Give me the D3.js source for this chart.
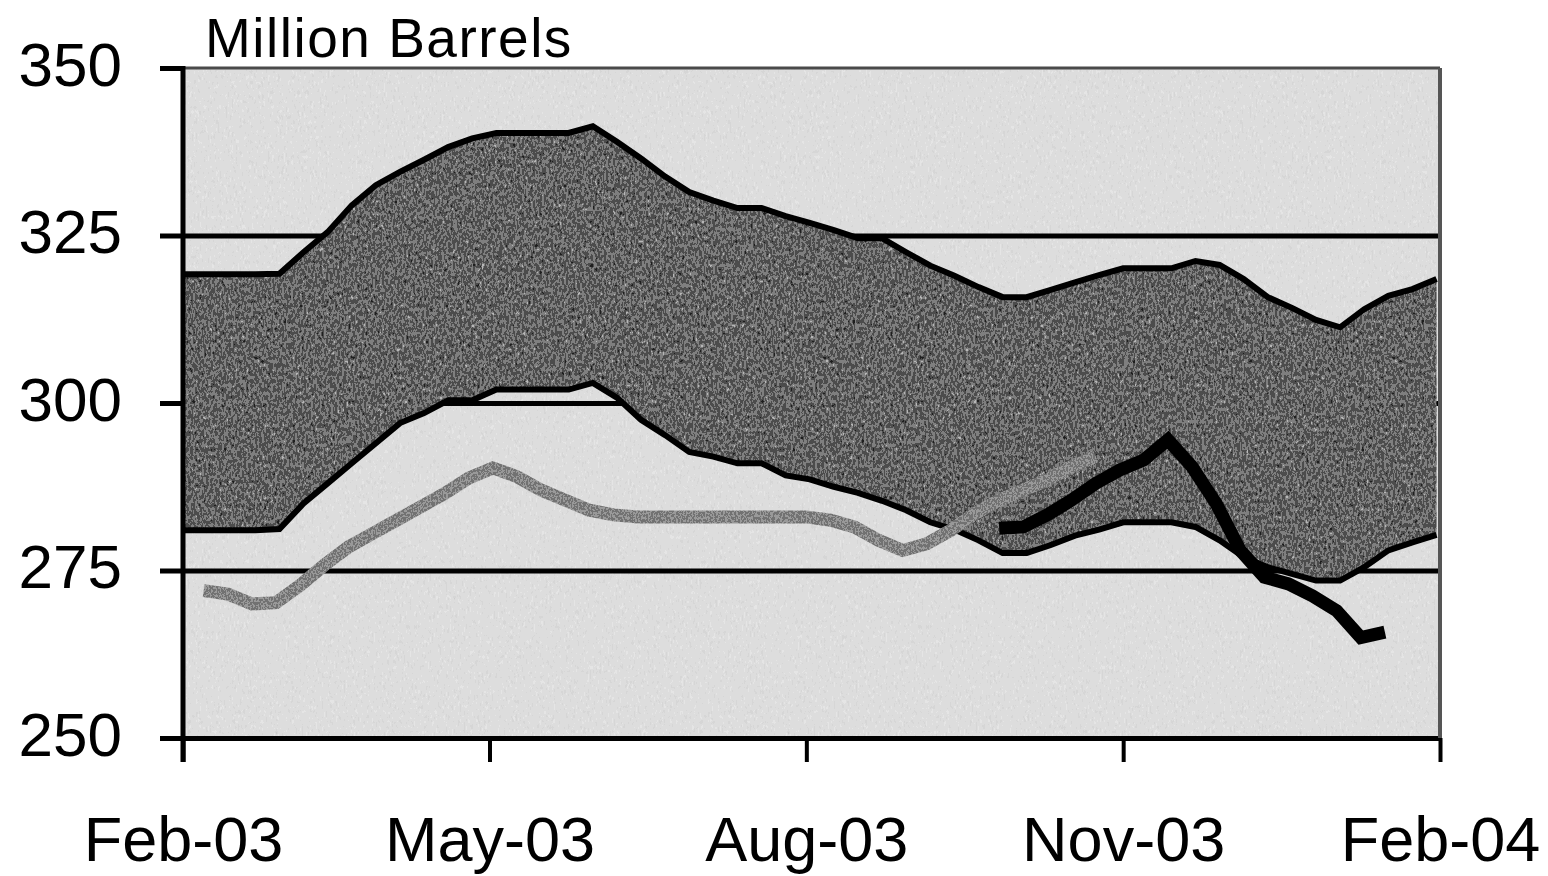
<!DOCTYPE html>
<html>
<head>
<meta charset="utf-8">
<script src="https://cdn.jsdelivr.net/npm/d3@7/dist/d3.min.js"></script>
<style>
  html, body { margin: 0; padding: 0; background: #fff; }
  svg { display: block; }
  text { font-family: "Liberation Sans", Arial, sans-serif; fill: #000; }
</style>
</head>
<body>
<svg id="chart" width="1548" height="876"></svg>
<script>
// y axis ticks and x axis ticks
const yTicks = [250, 275, 300, 325, 350];
const xTicks = ["2003-02-01", "2003-05-01", "2003-08-01", "2003-11-01", "2004-02-01"];
const xTickLabels = ["Feb-03", "May-03", "Aug-03", "Nov-03", "Feb-04"];

// weekly range band (upper / lower edge)
const bandWeeks = [
  "2003-02-01","2003-02-08","2003-02-15","2003-02-22",
  "2003-03-01","2003-03-08","2003-03-15","2003-03-22","2003-03-29",
  "2003-04-05","2003-04-12","2003-04-19","2003-04-26",
  "2003-05-03","2003-05-10","2003-05-17","2003-05-24","2003-05-31",
  "2003-06-07","2003-06-14","2003-06-21","2003-06-28",
  "2003-07-05","2003-07-12","2003-07-19","2003-07-26",
  "2003-08-02","2003-08-09","2003-08-16","2003-08-23","2003-08-30",
  "2003-09-06","2003-09-13","2003-09-20","2003-09-27",
  "2003-10-04","2003-10-11","2003-10-18","2003-10-25",
  "2003-11-01","2003-11-08","2003-11-15","2003-11-22","2003-11-29",
  "2003-12-06","2003-12-13","2003-12-20","2003-12-27",
  "2004-01-03","2004-01-10","2004-01-17","2004-01-24","2004-01-31"
];
const bandHigh = [
  319.2, 319.2, 319.2, 319.2,
  319.3, 322.5, 325.5, 329.5, 332.5,
  334.5, 336.3, 338.2, 339.5,
  340.3, 340.3, 340.3, 340.3, 341.3,
  339.0, 336.5, 333.8, 331.5,
  330.2, 329.1, 329.1, 327.9,
  326.9, 325.8, 324.6, 324.6, 322.5,
  320.5, 319.0, 317.3, 315.8,
  315.8, 316.9, 318.0, 319.1,
  320.1, 320.1, 320.1, 321.2, 320.6,
  318.5, 315.8, 314.2, 312.4,
  311.3, 314.0, 316.0, 317.0, 318.5
];
const bandLow = [
  281.0, 281.0, 281.0, 281.0,
  281.2, 285.0, 288.0, 291.0, 294.0,
  297.0, 298.5, 300.4, 300.4,
  302.0, 302.0, 302.0, 302.0, 303.0,
  300.8, 297.5, 295.2, 292.7,
  292.0, 291.0, 291.0, 289.2,
  288.6, 287.5, 286.6, 285.4, 284.0,
  282.2, 281.1, 279.5, 277.6,
  277.6, 278.8, 280.2, 281.1,
  282.2, 282.2, 282.2, 281.5, 279.5,
  277.0, 275.5, 274.5, 273.5,
  273.5, 275.5, 278.0, 279.2, 280.3
];

// grey line: Feb - Oct 2003
const pastWeeks = [
  "2003-02-07","2003-02-14","2003-02-21","2003-02-28","2003-03-07","2003-03-14","2003-03-21","2003-03-28",
  "2003-04-04","2003-04-11","2003-04-18","2003-04-25","2003-05-02","2003-05-09","2003-05-16","2003-05-23",
  "2003-05-30","2003-06-06","2003-06-13","2003-06-20","2003-06-27","2003-07-04","2003-07-11","2003-07-18",
  "2003-07-25","2003-08-01","2003-08-08","2003-08-15","2003-08-22","2003-08-29","2003-09-05","2003-09-12",
  "2003-09-19","2003-09-26","2003-10-03","2003-10-10","2003-10-17","2003-10-24"
];
const pastStocks = [
  272.0, 271.5, 270.0, 270.2, 272.8, 275.8, 278.5, 280.5,
  282.5, 284.5, 286.5, 288.8, 290.3, 289.0, 287.0, 285.5,
  284.0, 283.3, 283.0, 283.0, 283.0, 283.0, 283.0, 283.0,
  283.0, 283.0, 282.5, 281.5, 279.5, 278.0, 279.0, 281.0,
  283.5, 285.5, 287.0, 288.5, 290.5, 292.0
];

// black line: Sep 2003 - Jan 2004
const recentWeeks = [
  "2003-09-26","2003-10-03","2003-10-10","2003-10-17","2003-10-24","2003-10-31",
  "2003-11-07","2003-11-14","2003-11-21","2003-11-28","2003-12-05","2003-12-12",
  "2003-12-19","2003-12-26","2004-01-02","2004-01-09","2004-01-16"
];
const recentStocks = [
  281.3, 281.5, 283.3, 285.5, 288.0, 290.0,
  291.5, 294.5, 290.5, 285.0, 278.0, 274.0,
  273.0, 271.2, 269.0, 265.0, 265.8
];

const parse = d3.timeParse("%Y-%m-%d");
const band = bandWeeks.map((d, i) => ({ date: parse(d), hi: bandHigh[i], lo: bandLow[i] }));
const past = pastWeeks.map((d, i) => ({ date: parse(d), v: pastStocks[i] }));
const recent = recentWeeks.map((d, i) => ({ date: parse(d), v: recentStocks[i] }));

const plot = { left: 183, right: 1440, top: 68, bottom: 738 };

const x = d3.scaleTime()
  .domain([parse(xTicks[0]), parse(xTicks[xTicks.length - 1])])
  .range([plot.left, plot.right]);
const y = d3.scaleLinear().domain([250, 350]).range([plot.bottom, plot.top]);

const svg = d3.select("#chart");

// speckle filters to imitate the dithered scan
const defs = svg.append("defs");
function grain(id, table, freq) {
  const f = defs.append("filter").attr("id", id)
    .attr("color-interpolation-filters", "sRGB")
    .attr("x", "-5%").attr("y", "-5%").attr("width", "110%").attr("height", "110%");
  f.append("feTurbulence").attr("type", "fractalNoise")
    .attr("baseFrequency", freq).attr("numOctaves", 2).attr("seed", 4).attr("result", "t");
  f.append("feColorMatrix").attr("in", "t").attr("type", "matrix")
    .attr("values", "0.33 0.33 0.33 0 0  0.33 0.33 0.33 0 0  0.33 0.33 0.33 0 0  0 0 0 0 1")
    .attr("result", "g");
  const ct = f.append("feComponentTransfer").attr("in", "g").attr("result", "s");
  ["feFuncR", "feFuncG", "feFuncB"].forEach(fn =>
    ct.append(fn).attr("type", "discrete").attr("tableValues", table));
  f.append("feComposite").attr("in", "s").attr("in2", "SourceGraphic").attr("operator", "in");
}
grain("lightGrain", "0.8 0.84 0.87 0.9 0.94", "0.5 0.2");
grain("darkGrain", "0.0 0.12 0.3 0.5 0.72 0.92", "0.45 0.25");
grain("midGrain", "0.3 0.45 0.6 0.75", "0.6 0.4");

// plot background
svg.append("rect")
  .attr("x", plot.left).attr("y", plot.top)
  .attr("width", plot.right - plot.left).attr("height", plot.bottom - plot.top)
  .attr("fill", "#000")
  .attr("filter", "url(#lightGrain)");

// y axis with gridlines (under the band)
const yAxis = svg.append("g")
  .attr("transform", "translate(160,0)")
  .call(d3.axisLeft(y).tickValues(yTicks).tickSize(-(plot.right - 160)).tickPadding(38).tickFormat(d3.format("d")));
yAxis.select(".domain").remove();
yAxis.selectAll(".tick line")
  .attr("stroke", "#000").attr("stroke-width", 5)
  .attr("x2", d => d === 350 ? plot.left - 160 : plot.right - 160);
yAxis.selectAll(".tick text")
  .attr("font-size", 62).attr("font-family", "Liberation Sans, Arial, sans-serif")
  .attr("dy", "0.28em");

// range band
svg.append("path")
  .datum(band)
  .attr("d", d3.area().x(d => x(d.date)).y0(d => y(d.lo)).y1(d => y(d.hi)))
  .attr("fill", "#000")
  .attr("filter", "url(#darkGrain)");

const edge = key => d3.line().x(d => x(d.date)).y(d => y(d[key]));
["hi", "lo"].forEach(k => {
  svg.append("path").datum(band)
    .attr("d", edge(k))
    .attr("fill", "none").attr("stroke", "#000").attr("stroke-width", 6);
});

// inventory lines
const line = d3.line().x(d => x(d.date)).y(d => y(d.v));
svg.append("path").datum(recent)
  .attr("d", line)
  .attr("fill", "none").attr("stroke", "#000")
  .attr("stroke-width", 13).attr("stroke-linejoin", "miter");
svg.append("path").datum(past)
  .attr("d", line)
  .attr("fill", "none").attr("stroke", "#000")
  .attr("stroke-width", 13).attr("stroke-linejoin", "miter")
  .attr("filter", "url(#midGrain)");

// frame
svg.append("line")
  .attr("x1", plot.left).attr("x2", plot.right).attr("y1", plot.top).attr("y2", plot.top)
  .attr("stroke", "#4a4a4a").attr("stroke-width", 3);
svg.append("line")
  .attr("x1", plot.right).attr("x2", plot.right).attr("y1", plot.top).attr("y2", plot.bottom)
  .attr("stroke", "#555").attr("stroke-width", 4);
svg.append("line")
  .attr("x1", plot.left).attr("x2", plot.left).attr("y1", plot.top - 2).attr("y2", plot.bottom + 24)
  .attr("stroke", "#000").attr("stroke-width", 5);

// x axis
const xAxis = svg.append("g")
  .attr("transform", `translate(0,${plot.bottom})`)
  .call(d3.axisBottom(x)
    .tickValues(xTicks.map(parse))
    .tickSize(24).tickSizeOuter(0).tickPadding(54)
    .tickFormat((d, i) => xTickLabels[i]));
xAxis.select(".domain").remove();
xAxis.selectAll(".tick line").attr("stroke", "#000").attr("stroke-width", 4);
xAxis.selectAll(".tick text")
  .attr("font-size", 63).attr("font-family", "Liberation Sans, Arial, sans-serif");

// unit label
svg.append("text")
  .attr("x", 205).attr("y", 57)
  .attr("font-size", 55)
  .attr("letter-spacing", 1.5)
  .text("Million Barrels");
</script>
</body>
</html>
